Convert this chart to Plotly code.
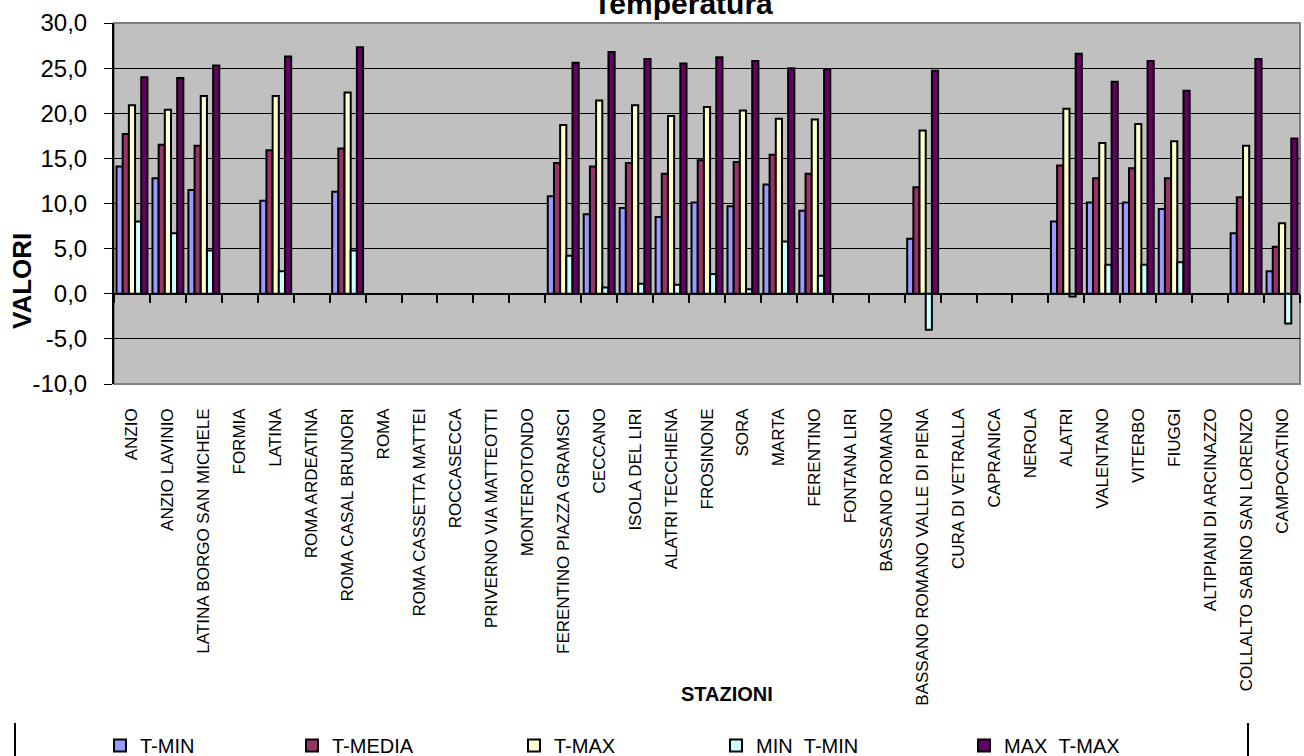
import plotly.graph_objects as go

# Stations (category axis)
stazioni = [
    "ANZIO", "ANZIO LAVINIO", "LATINA BORGO SAN MICHELE", "FORMIA", "LATINA",
    "ROMA ARDEATINA", "ROMA CASAL BRUNORI", "ROMA", "ROMA CASSETTA MATTEI",
    "ROCCASECCA", "PRIVERNO VIA MATTEOTTI", "MONTEROTONDO",
    "FERENTINO PIAZZA GRAMSCI", "CECCANO", "ISOLA DEL LIRI", "ALATRI TECCHIENA",
    "FROSINONE", "SORA", "MARTA", "FERENTINO", "FONTANA LIRI", "BASSANO ROMANO",
    "BASSANO ROMANO VALLE DI PIENA", "CURA DI VETRALLA", "CAPRANICA", "NEROLA",
    "ALATRI", "VALENTANO", "VITERBO", "FIUGGI", "ALTIPIANI DI ARCINAZZO",
    "COLLALTO SABINO SAN LORENZO", "CAMPOCATINO",
]

N = None
t_min = [14.1, 12.8, 11.5, N, 10.3, N, 11.3, N, N, N, N, N,
         10.8, 8.8, 9.5, 8.5, 10.1, 9.7, 12.1, 9.2, N, N,
         6.1, N, N, N, 8.0, 10.1, 10.1, 9.4, N, 6.7, 2.5]
t_media = [17.7, 16.5, 16.4, N, 15.9, N, 16.1, N, N, N, N, N,
           14.5, 14.1, 14.5, 13.3, 14.8, 14.6, 15.4, 13.3, N, N,
           11.8, N, N, N, 14.2, 12.8, 13.9, 12.8, N, 10.7, 5.2]
t_max = [20.9, 20.4, 21.9, N, 21.9, N, 22.3, N, N, N, N, N,
         18.7, 21.4, 20.9, 19.7, 20.7, 20.3, 19.4, 19.3, N, N,
         18.1, N, N, N, 20.5, 16.7, 18.8, 16.9, N, 16.4, 7.8]
min_t_min = [8.0, 6.7, 4.8, N, 2.5, N, 4.8, N, N, N, N, N,
             4.2, 0.7, 1.1, 1.0, 2.2, 0.5, 5.8, 2.0, N, N,
             -4.0, N, N, N, -0.3, 3.2, 3.2, 3.5, N, N, -3.3]
max_t_max = [24.0, 23.9, 25.3, N, 26.3, N, 27.3, N, N, N, N, N,
             25.6, 26.8, 26.0, 25.5, 26.2, 25.8, 25.0, 24.9, N, N,
             24.7, N, N, N, 26.6, 23.5, 25.8, 22.5, N, 26.0, 17.2]

# value-axis ticks
y_ticks = [-10, -5, 0, 5, 10, 15, 20, 25, 30]
y_tick_labels = ["-10,0", "-5,0", "0,0", "5,0", "10,0", "15,0", "20,0", "25,0", "30,0"]

serie = [
    ("T-MIN", t_min, "#9999FF"),
    ("T-MEDIA", t_media, "#993366"),
    ("T-MAX", t_max, "#FFFFCC"),
    ("MIN_T-MIN", min_t_min, "#CCFFFF"),
    ("MAX_T-MAX", max_t_max, "#660066"),
]

W, H = 1304, 756
L, R, T, B = 114, 4, 23, 372
pw, ph = W - L - R, H - T - B
FONT = "Arial, Liberation Sans, sans-serif"

def px_x(x):
    return (x - L) / pw

def px_y(y):
    return (H - B - y) / ph

y_min, y_max = -10, 30

fig = go.Figure()

# legend positions (pixel x of each legend box)
legend_x = [100, 292, 514, 716, 964]
legend_names = ["legend", "legend2", "legend3", "legend4", "legend5"]

for (name, vals, col), lg in zip(serie, legend_names):
    fig.add_trace(go.Bar(
        x=stazioni, y=vals, name=name,
        marker=dict(color=col, line=dict(color="black", width=2)),
        legend=lg,
    ))

# helper trace carrying the tick marks on the zero line
fig.add_trace(go.Bar(x=stazioni, y=[None] * len(stazioni), xaxis="x2",
                     showlegend=False, hoverinfo="skip"))

zero_pos = (0 - y_min) / (y_max - y_min)

layout_legends = {}
for lg, lx in zip(legend_names, legend_x):
    layout_legends[lg] = dict(
        x=px_x(lx), xanchor="left", y=px_y(726), yanchor="top",
        orientation="h", bgcolor="rgba(0,0,0,0)",
        font=dict(family=FONT, size=20, color="black"),
        itemwidth=30,
    )

fig.update_layout(
    width=W, height=H,
    margin=dict(l=L, r=R, t=T, b=B, autoexpand=False),
    paper_bgcolor="white",
    plot_bgcolor="#C0C0C0",
    barmode="group",
    bargap=0.14,
    bargroupgap=0,
    font=dict(family=FONT, color="black"),
    showlegend=True,
    **layout_legends,
    xaxis=dict(
        type="category", categoryorder="array", categoryarray=stazioni,
        range=[-0.5, len(stazioni) - 0.5],
        tickangle=-90, tickfont=dict(family=FONT, size=17, color="black"),
        ticks="", ticklabelstandoff=20, showgrid=False, showline=False,
        zeroline=False, automargin=False,
    ),
    xaxis2=dict(
        type="category", categoryorder="array", categoryarray=stazioni,
        range=[-0.5, len(stazioni) - 0.5],
        overlaying="x", anchor="free", position=zero_pos, side="bottom",
        tickson="boundaries", ticks="outside", ticklen=8, tickwidth=2,
        tickcolor="black", showticklabels=False, showgrid=False,
        showline=False, zeroline=False,
    ),
    yaxis=dict(
        range=[y_min, y_max], tickmode="array",
        tickvals=y_ticks, ticktext=y_tick_labels,
        tickfont=dict(family=FONT, size=24, color="black"),
        ticks="outside", ticklen=8, tickwidth=1, tickcolor="black",
        ticklabelstandoff=12,
        showgrid=True, gridcolor="black", gridwidth=1,
        zeroline=True, zerolinecolor="black", zerolinewidth=2,
        showline=True, linecolor="black", linewidth=2,
        automargin=False,
    ),
    title=dict(
        text="<b>Temperatura</b>", x=683 / W, xanchor="center",
        y=1 - 3 / H, yanchor="middle", yref="container",
        font=dict(family=FONT, size=30, color="black"),
    ),
    annotations=[
        dict(text="<b>VALORI</b>", textangle=-90, showarrow=False,
             xref="paper", yref="paper", x=px_x(22), y=px_y(281),
             xanchor="center", yanchor="middle",
             font=dict(family=FONT, size=26, color="black")),
        dict(text="<b>STAZIONI</b>", showarrow=False,
             xref="paper", yref="paper", x=px_x(727), y=px_y(694),
             xanchor="center", yanchor="middle",
             font=dict(family=FONT, size=20, color="black")),
    ],
    shapes=[
        # plot-area frame
        dict(type="rect", xref="paper", yref="paper", x0=0, x1=1, y0=0, y1=1,
             line=dict(color="#808080", width=2), layer="below"),
        # legend frame sides
        dict(type="line", xref="paper", yref="paper",
             x0=px_x(15), x1=px_x(15), y0=px_y(723), y1=px_y(760),
             line=dict(color="black", width=2)),
        dict(type="line", xref="paper", yref="paper",
             x0=px_x(1248), x1=px_x(1248), y0=px_y(723), y1=px_y(760),
             line=dict(color="black", width=2)),
    ],
)

fig.write_html("out.html")
